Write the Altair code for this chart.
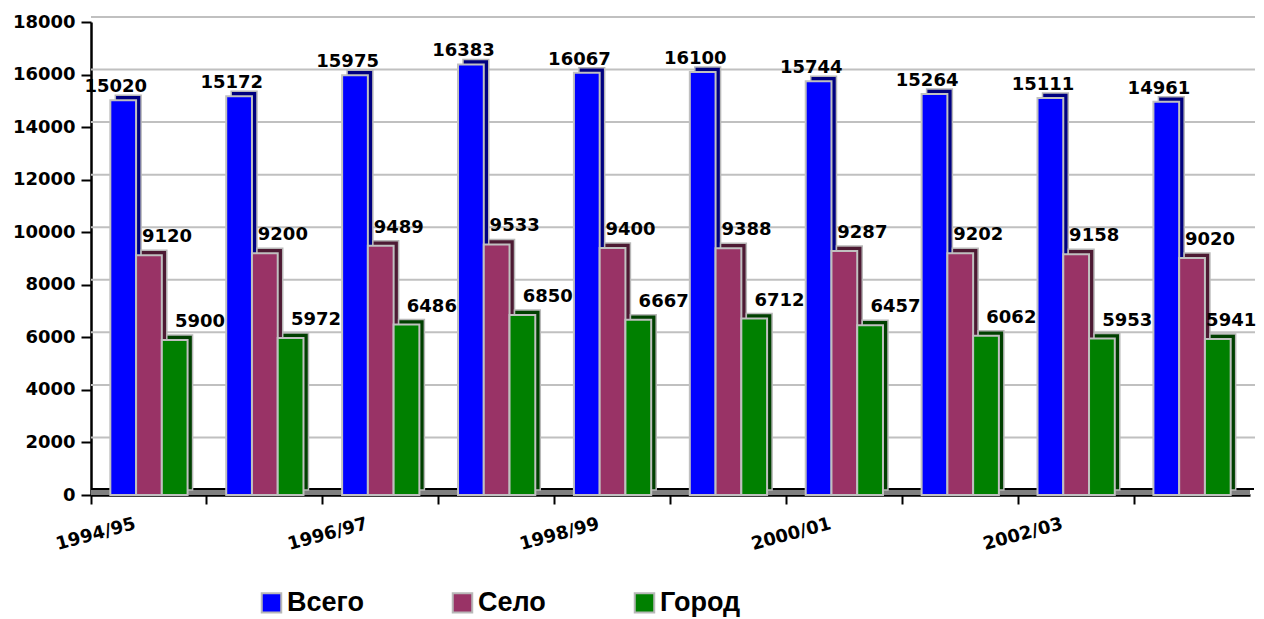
import altair as alt
import pandas as pd

years = ["1994/95", "1995/96", "1996/97", "1997/98", "1998/99",
         "1999/00", "2000/01", "2001/02", "2002/03", "2003/04"]
series = ["Всего", "Село", "Город"]
colors = ["#0000FF", "#993366", "#008000"]
dark_colors = ["#000080", "#4d1a33", "#004000"]
vsego = [15020, 15172, 15975, 16383, 16067, 16100, 15744, 15264, 15111, 14961]
selo = [9120, 9200, 9489, 9533, 9400, 9388, 9287, 9202, 9158, 9020]
gorod = [5900, 5972, 6486, 6850, 6667, 6712, 6457, 6062, 5953, 5941]
y_ticks = [0, 2000, 4000, 6000, 8000, 10000, 12000, 14000, 16000, 18000]
shown_labels = years[::2]

rows = []
for s, vals, dc in zip(series, [vsego, selo, gorod], dark_colors):
    for y, v in zip(years, vals):
        rows.append({"year": y, "series": s, "value": v, "dark": dc})
df = pd.DataFrame(rows)
grid_df = pd.DataFrame({"value": y_ticks[1:]})

W, H = 1159, 473
STEP = W / len(years)
DEPTH = 5
FONT = "DejaVu Sans"
LAST = years[-1]

label_expr = "indexof([" + ",".join("'%s'" % l for l in shown_labels) + "], datum.value) >= 0 ? datum.value : ''"

x_enc = alt.X("year:N", sort=years,
              scale=alt.Scale(paddingInner=0, paddingOuter=0),
              axis=alt.Axis(title=None, bandPosition=0, labelExpr=label_expr,
                            labelAngle=345, labelAlign="center", labelBaseline="middle",
                            labelPadding=30, labelOffset=-53, tickSize=9, grid=False,
                            labelFontSize=18))
xo_enc = alt.XOffset("series:N", sort=series,
                     scale=alt.Scale(paddingOuter=0.75, paddingInner=0))
xo_back = alt.XOffset("series:N", sort=series,
                      scale=alt.Scale(paddingOuter=0.75, paddingInner=0,
                                      range=[DEPTH, STEP + DEPTH]))
y_axis = alt.Axis(title=None, values=y_ticks, format="d", grid=False, tickSize=10, labelPadding=6)
y_scale = alt.Scale(domain=[0, 18000], nice=False)
y_enc = alt.Y("value:Q", scale=y_scale, axis=y_axis)

base = alt.Chart(df)

grid = alt.Chart(grid_df).mark_rule(color="#c0c0c0", strokeWidth=2, yOffset=-5, xOffset=5).encode(
    y=y_enc
)

floor = alt.Chart(grid_df).mark_rule(color="#808080", strokeWidth=5, yOffset=-3).encode(
    y=alt.datum(0)
)
floor_top = alt.Chart(grid_df).mark_rule(color="#000000", strokeWidth=1.5, yOffset=-6, xOffset=4).encode(
    y=alt.datum(0)
)

back = base.mark_bar(yOffset=-DEPTH, y2Offset=-DEPTH, stroke="#b8b8b8", strokeWidth=1.5).encode(
    x=x_enc, xOffset=xo_back, y=y_enc,
    color=alt.Color("dark:N", scale=None)
)

front = base.mark_bar(stroke="#c0c0c0", strokeWidth=2).encode(
    x=x_enc, xOffset=xo_enc, y=y_enc,
    color=alt.Color("series:N", sort=series,
                    scale=alt.Scale(domain=series, range=colors),
                    legend=alt.Legend(title=None, orient="none", direction="horizontal",
                                      legendX=167, legendY=567,
                                      symbolType="square", symbolSize=380,
                                      symbolStrokeColor="#c0c0c0", symbolStrokeWidth=2,
                                      symbolOpacity=1,
                                      labelFont="Liberation Sans", labelFontWeight="bold",
                                      labelFontSize=27, labelColor="#000000",
                                      labelOffset=2, columnPadding=84,
                                      labelLimit=300))
)

bars = alt.layer(back, front).resolve_scale(xOffset="independent")

txt_style = dict(font=FONT, fontWeight="bold", fontSize=18, baseline="alphabetic", color="#000000")

txt_blue = base.transform_filter(alt.datum.series == "Всего").mark_text(
    dy=-8, **txt_style
).encode(x=x_enc, xOffset=xo_enc, y=y_enc, text="value:Q")

txt_other = base.transform_filter(
    (alt.datum.series != "Всего") & ~((alt.datum.series == "Город") & (alt.datum.year == LAST))
).mark_text(dx=18, dy=-13, **txt_style).encode(x=x_enc, xOffset=xo_enc, y=y_enc, text="value:Q")

txt_edge = base.transform_filter(
    (alt.datum.series == "Город") & (alt.datum.year == LAST)
).mark_text(dx=6, dy=-13, **txt_style).encode(x=x_enc, xOffset=xo_enc, y=y_enc, text="value:Q")

chart = alt.layer(grid, floor, floor_top, bars, txt_blue, txt_other, txt_edge).properties(
    width=W, height=H,
    autosize=alt.AutoSizeParams(type="none"),
    padding={"left": 83, "top": 14, "right": 6, "bottom": 124},
).configure_view(stroke=None).configure_axis(
    domainColor="#000000", domainWidth=2.5, tickColor="#000000", tickWidth=2,
    labelFont=FONT, labelFontWeight="bold", labelFontSize=17, labelColor="#000000"
).configure_axisY(labelFontSize=18)

chart.save("out.html", embed_options={"renderer": "svg", "actions": False})
